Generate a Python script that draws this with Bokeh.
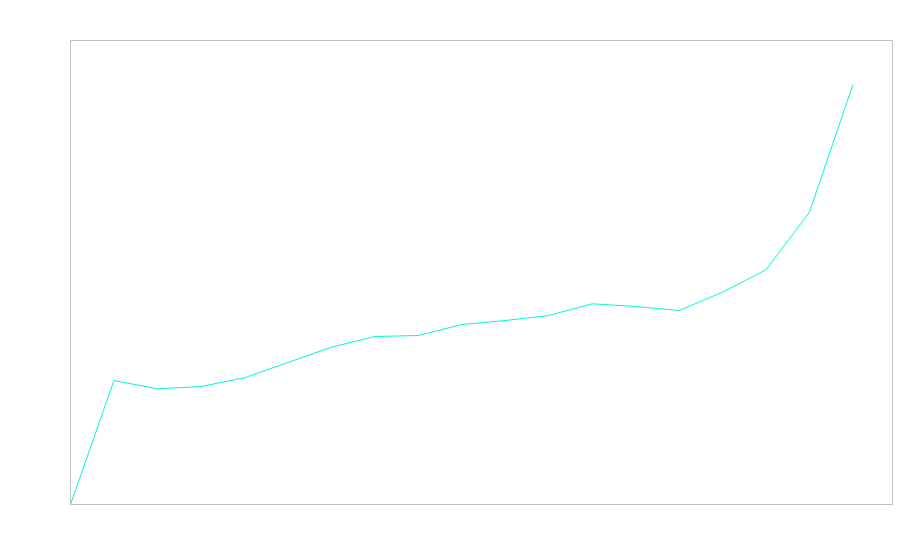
from bokeh.plotting import figure
from bokeh.models import Range1d
from bokeh.embed import file_html
from bokeh.resources import INLINE

# Data (arbitrary units)
x_index = list(range(19))
values = [0, 124, 115.7, 118, 126.7, 142, 157.3, 168, 169, 180, 184, 189,
          200.7, 198, 194, 212.3, 234.7, 292.3, 420]

x_end = 18.91
y_end = 464

p = figure(width=894, height=548, output_backend="svg", toolbar_location=None,
           x_range=Range1d(0, x_end), y_range=Range1d(0, y_end),
           min_border_left=70, min_border_right=2, min_border_top=40, min_border_bottom=44)
p.line(x_index, values, line_color="#00f5e0", line_width=1)

p.xaxis.visible = False
p.yaxis.visible = False
p.xgrid.visible = False
p.ygrid.visible = False
p.outline_line_color = "#c0c0c0"
p.outline_line_width = 1
p.outline_line_alpha = 1.0

open("out.html", "w").write(file_html(p, INLINE))
